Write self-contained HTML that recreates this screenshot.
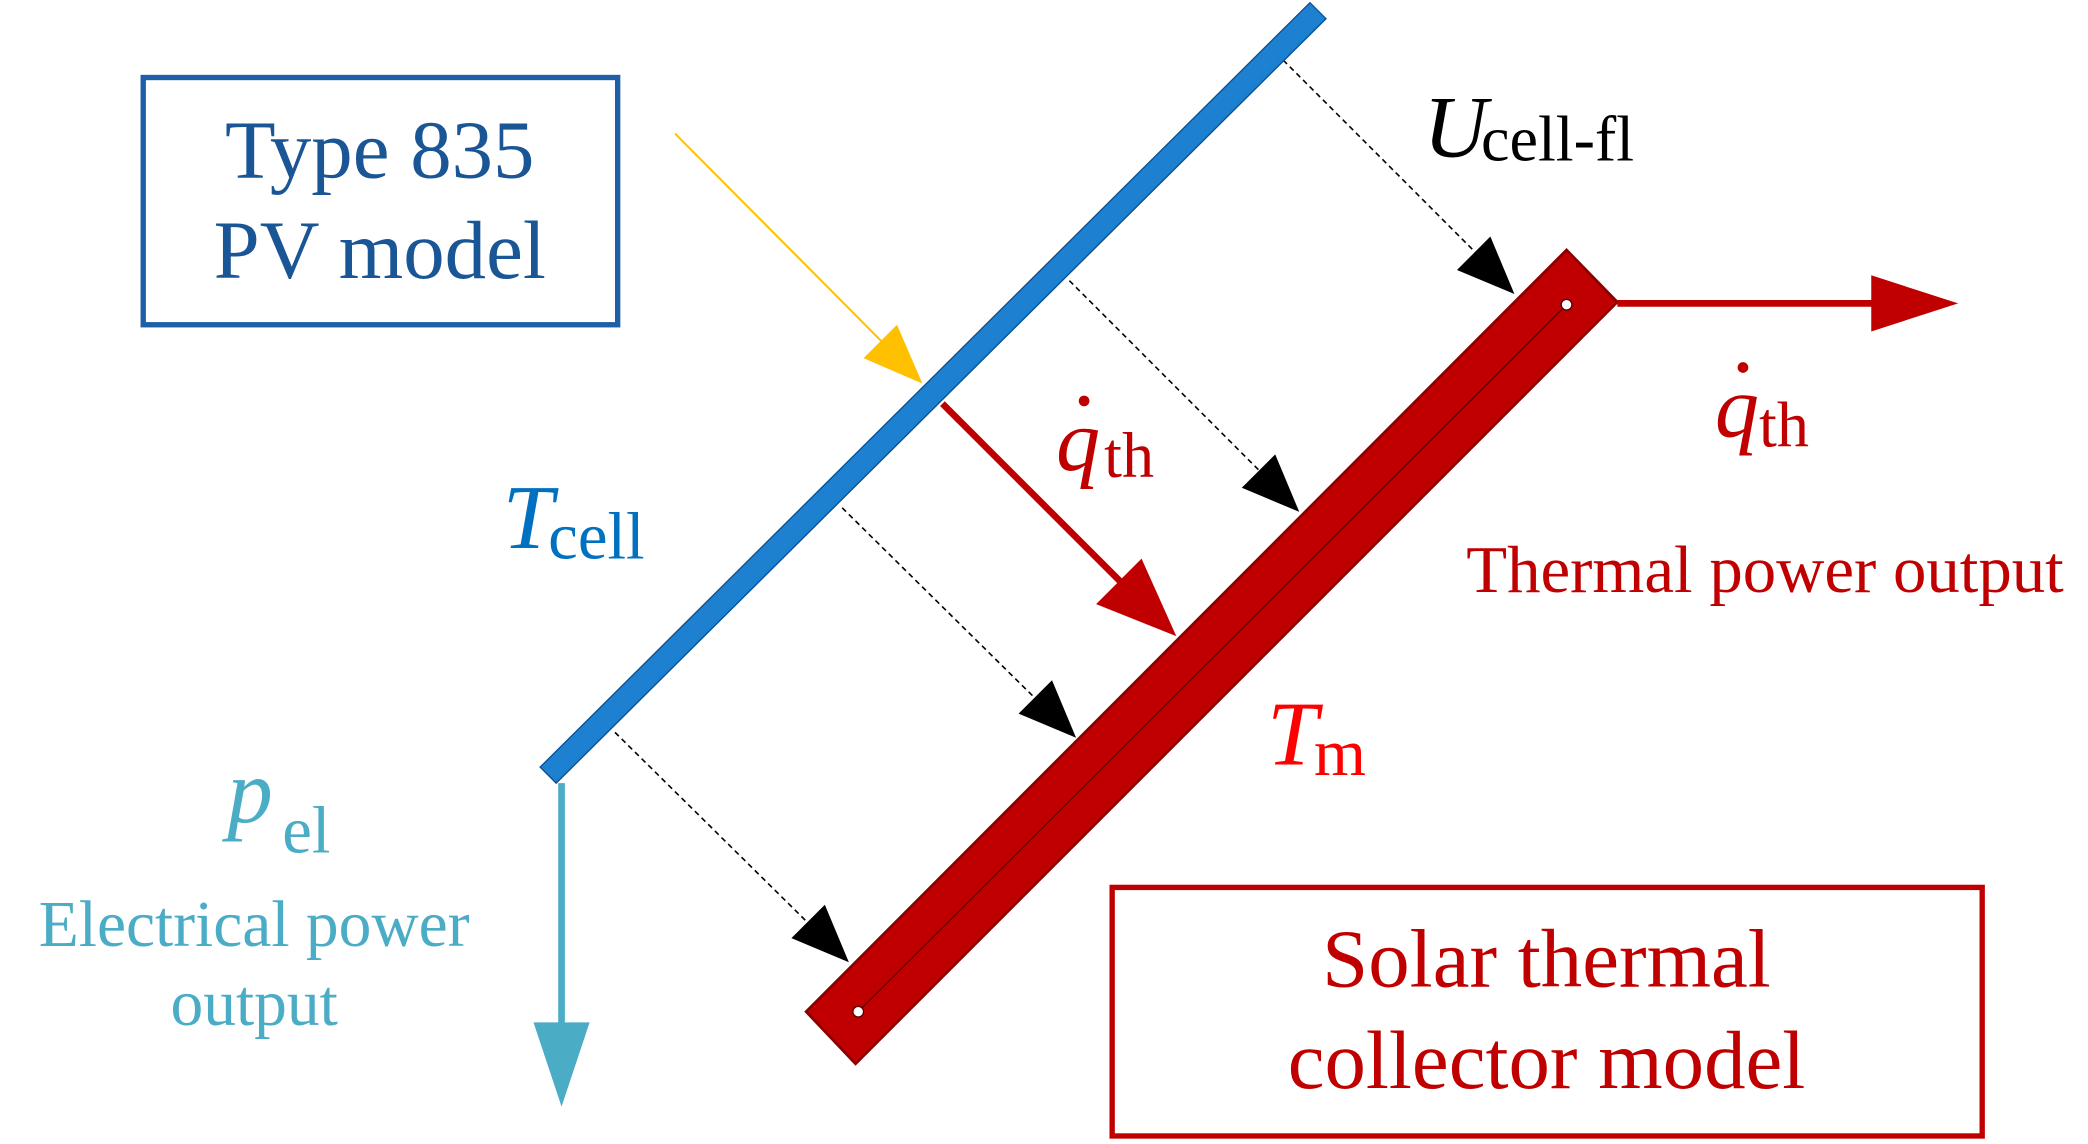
<!DOCTYPE html>
<html><head><meta charset="utf-8"><style>html,body{margin:0;padding:0;background:#fff}svg{display:block}</style></head>
<body>
<svg width="2088" height="1144" viewBox="0 0 1562 856" xmlns="http://www.w3.org/2000/svg" font-family="'Liberation Serif', serif">
<defs>
<linearGradient id="bg" x1="0" y1="0" x2="1" y2="1"><stop offset="0" stop-color="#3aa0f0"/><stop offset="1" stop-color="#0060b0"/></linearGradient>
</defs>
<g>
<rect x="107" y="58" width="355" height="185" fill="none" stroke="#1f5fa8" stroke-width="4"/>
<text x="284" y="133" font-size="62" fill="#1a5596" text-anchor="middle">Type 835</text>
<text x="284" y="208" font-size="62" fill="#1a5596" text-anchor="middle">PV model</text>
</g>
<g>
<rect x="832" y="664" width="651" height="186" fill="none" stroke="#c00000" stroke-width="4"/>
<text x="1157" y="738" font-size="62" fill="#c00000" text-anchor="middle">Solar thermal</text>
<text x="1157" y="814" font-size="62" fill="#c00000" text-anchor="middle">collector model</text>
</g>
<g stroke="#000" stroke-width="1.2" stroke-dasharray="4,3">
<line x1="960" y1="45" x2="1112" y2="197"/>
<line x1="800" y1="210" x2="952" y2="362"/>
<line x1="630" y1="380" x2="784" y2="532"/>
<line x1="460" y1="548" x2="614" y2="700"/>
</g>
<g fill="#000">
<polygon points="1133,220 1090,202 1115,177"/>
<polygon points="972,383 929,365 954,340"/>
<polygon points="805,552 762,534 787,509"/>
<polygon points="635,720 592,702 617,677"/>
</g>
<g>
<polygon points="1172,187 1210,226 640,796 603,757" fill="#c00000" stroke="#8a0000" stroke-width="2"/>
<line x1="642" y1="757" x2="1172" y2="228" stroke="#5a0000" stroke-width="1"/>
<circle cx="642" cy="757" r="4" fill="#fff" stroke="#500" stroke-width="1"/>
<circle cx="1172" cy="228" r="4" fill="#fff" stroke="#500" stroke-width="1"/>
</g>
<polygon points="980,2 992,14 416,586 404,574" fill="url(#bg)" stroke="#0a5090" stroke-width="1"/>
<g>
<line x1="505" y1="100" x2="668" y2="264" stroke="#ffc000" stroke-width="1.5"/>
<polygon points="690,287 646,268 671,243" fill="#ffc000"/>
</g>
<g>
<line x1="705" y1="302" x2="850" y2="447" stroke="#c00000" stroke-width="5"/>
<polygon points="880,476 820,452 854,418" fill="#c00000"/>
</g>
<g>
<line x1="1210" y1="227" x2="1410" y2="227" stroke="#c00000" stroke-width="5"/>
<polygon points="1465,227 1400,206 1400,248" fill="#c00000"/>
</g>
<g>
<line x1="420" y1="586" x2="420" y2="770" stroke="#4bacc6" stroke-width="5"/>
<polygon points="420,828 399,765 441,765" fill="#4bacc6"/>
</g>
<g>
<text x="1065" y="117" font-size="66" font-style="italic" fill="#000">U</text>
<text x="1108" y="120" font-size="48" fill="#000">cell-fl</text>
</g>
<g fill="#c00000">
<text x="790" y="352" font-size="66" font-style="italic">q</text>
<circle cx="811" cy="300" r="4"/>
<text x="826" y="357" font-size="48">th</text>
</g>
<g fill="#c00000">
<text x="1283" y="327" font-size="66" font-style="italic">q</text>
<circle cx="1304" cy="275" r="4"/>
<text x="1316" y="334" font-size="48">th</text>
</g>
<text x="1097" y="443" font-size="50" fill="#c00000">Thermal power output</text>
<g fill="#0070c0">
<text x="376" y="410" font-size="68" font-style="italic">T</text>
<text x="410" y="418" font-size="50">cell</text>
</g>
<g fill="#ff0000">
<text x="948" y="572" font-size="68" font-style="italic">T</text>
<text x="983" y="580" font-size="50">m</text>
</g>
<g fill="#4bacc6">
<text x="170" y="615" font-size="68" font-style="italic">p</text>
<text x="211" y="638" font-size="50">el</text>
<text x="190" y="708" font-size="49" text-anchor="middle">Electrical power</text>
<text x="190" y="767" font-size="49" text-anchor="middle">output</text>
</g>
</svg>
</body></html>
